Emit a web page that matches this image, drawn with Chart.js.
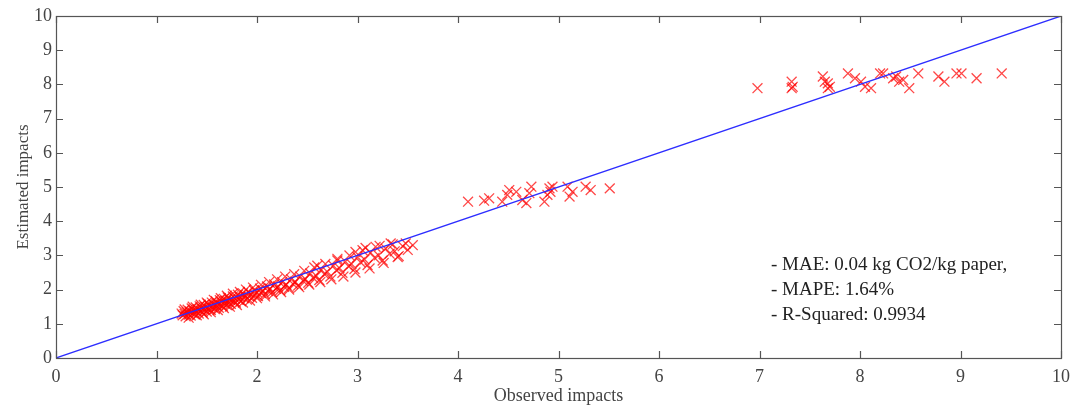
<!DOCTYPE html>
<html>
<head>
<meta charset="utf-8">
<script src="https://cdn.jsdelivr.net/npm/chart.js@4.4.0/dist/chart.umd.min.js"></script>
<style>
  html, body { margin: 0; padding: 0; background: #fff; }
  #wrap { width: 1070px; height: 407px; }
</style>
</head>
<body>
<div id="wrap"><canvas id="grafico" width="1070" height="407"></canvas></div>
<script>
// observed vs estimated impacts
const observed = [
  1.25, 1.26, 1.27, 1.28, 1.29, 1.30, 1.31, 1.32, 1.33, 1.34, 1.35, 1.36, 1.37, 1.38, 1.39, 1.40,
  1.41, 1.42, 1.43, 1.44, 1.45, 1.46, 1.47, 1.48, 1.49, 1.50, 1.51, 1.52, 1.53, 1.54, 1.55, 1.56,
  1.57, 1.58, 1.59, 1.60, 1.61, 1.62, 1.63, 1.64, 1.65, 1.66, 1.67, 1.68, 1.69, 1.70, 1.71, 1.72,
  1.73, 1.74, 1.76, 1.77, 1.78, 1.79, 1.81, 1.82, 1.83, 1.84, 1.86, 1.87, 1.88, 1.90, 1.91, 1.92,
  1.94, 1.95, 1.97, 1.98, 2.00, 2.01, 2.03, 2.04, 2.06, 2.08, 2.10, 2.11, 2.13, 2.15, 2.17, 2.19,
  2.21, 2.23, 2.25, 2.27, 2.29, 2.32, 2.34, 2.36, 2.38, 2.41, 2.43, 2.46, 2.48, 2.51, 2.53, 2.56,
  2.59, 2.62, 2.64, 2.67, 2.70, 2.73, 2.76, 2.79, 2.82, 2.85, 2.88, 2.91, 2.94, 2.97, 3.00, 3.03,
  3.07, 3.10, 3.13, 3.17, 3.21, 3.25, 3.28, 3.32, 3.37, 3.41, 3.45, 3.50, 3.55,
  2.60, 2.80, 2.98, 3.08, 3.22, 3.35,
  1.28, 1.32, 1.36, 1.40, 1.44, 1.47, 1.50, 1.54, 1.57, 1.61, 1.64, 1.67, 1.70, 1.73, 1.76, 1.80,
  1.83, 1.86, 1.89, 1.93, 1.96, 2.00, 2.04, 2.08, 2.12, 2.16, 2.20, 2.24, 2.28, 2.32, 2.37, 2.42,
  2.47, 2.52, 2.57, 2.63, 2.68, 2.74, 2.80, 2.86, 2.92, 2.98, 3.05, 3.12, 3.18, 3.26, 3.33, 3.40,
  3.48,
  4.10, 4.26, 4.31, 4.44, 4.49, 4.51, 4.58, 4.64, 4.68, 4.73, 4.71, 4.86, 4.89, 4.91, 4.92, 4.94,
  5.09, 5.11, 5.14, 5.27, 5.32, 5.51,
  6.98, 7.32, 7.32, 7.33, 7.63, 7.65, 7.68, 7.68, 7.70, 7.88, 7.95, 8.01, 8.05, 8.11, 8.20, 8.23,
  8.33, 8.36, 8.39, 8.43, 8.49, 8.58, 8.78, 8.84, 8.96, 9.01, 9.16, 9.41
];
const estimated = [
  1.30, 1.25, 1.37, 1.29, 1.22, 1.34, 1.41, 1.27, 1.36, 1.24, 1.45, 1.31, 1.39, 1.28, 1.48, 1.35,
  1.42, 1.30, 1.51, 1.38, 1.45, 1.33, 1.55, 1.41, 1.49, 1.36, 1.58, 1.44, 1.52, 1.40, 1.62, 1.48,
  1.56, 1.43, 1.66, 1.52, 1.59, 1.47, 1.69, 1.55, 1.63, 1.51, 1.73, 1.59, 1.67, 1.55, 1.77, 1.62,
  1.70, 1.58, 1.80, 1.66, 1.74, 1.62, 1.85, 1.71, 1.78, 1.66, 1.89, 1.75, 1.82, 1.71, 1.93, 1.80,
  1.87, 1.76, 1.98, 1.85, 1.92, 1.81, 2.03, 1.90, 1.97, 1.86, 2.09, 1.96, 2.03, 1.92, 2.15, 2.02,
  2.09, 1.98, 2.22, 2.08, 2.15, 2.05, 2.30, 2.16, 2.23, 2.12, 2.38, 2.25, 2.31, 2.20, 2.47, 2.34,
  2.40, 2.28, 2.58, 2.45, 2.52, 2.38, 2.70, 2.56, 2.63, 2.49, 2.82, 2.68, 2.75, 2.60, 2.95, 2.80,
  2.88, 2.72, 3.08, 2.93, 3.00, 2.85, 3.20, 3.05, 3.12, 2.98, 3.27, 3.16, 3.30,
  2.70, 2.90, 3.10, 3.22, 3.28, 3.32,
  1.42, 1.18, 1.50, 1.25, 1.56, 1.28, 1.62, 1.34, 1.70, 1.40, 1.75, 1.46, 1.82, 1.50, 1.88, 1.55,
  1.93, 1.62, 2.00, 1.68, 2.06, 1.75, 2.14, 1.80, 2.22, 1.86, 2.30, 1.93, 2.38, 2.00, 2.45, 2.07,
  2.55, 2.15, 2.65, 2.22, 2.75, 2.30, 2.85, 2.38, 3.00, 2.50, 3.15, 2.62, 3.25, 2.78, 3.35, 2.95,
  3.35,
  4.57, 4.60, 4.67, 4.57, 4.77, 4.91, 4.86, 4.62, 4.53, 5.01, 4.82, 4.57, 4.77, 4.96, 4.86, 5.01,
  5.01, 4.72, 4.86, 5.01, 4.91, 4.96,
  7.89, 8.08, 7.89, 7.93, 8.23, 8.08, 8.03, 7.89, 7.93, 8.32, 8.18, 8.08, 7.93, 7.89, 8.32, 8.32,
  8.18, 8.23, 8.08, 8.13, 7.89, 8.32, 8.23, 8.08, 8.32, 8.32, 8.18, 8.32
];
const refLine = [0, 10];
const tickValues = [0, 1, 2, 3, 4, 5, 6, 7, 8, 9, 10];
const metrics = [
  "- MAE: 0.04 kg CO2/kg paper,",
  "- MAPE: 1.64%",
  "- R-Squared: 0.9934"
];

const pontos = observed.map((x, i) => ({ x: x, y: estimated[i] }));
const linha = refLine.map((v) => ({ x: v, y: v }));

const fonte = "'Liberation Serif', 'Times New Roman', serif";

// ticks para dentro, caixa e texto de métricas (estilo MATLAB)
const caixaMatlab = {
  id: "caixaMatlab",
  afterDraw(chart) {
    const ctx = chart.ctx;
    const a = chart.chartArea;
    const sx = chart.scales.x;
    const sy = chart.scales.y;
    const len = 7;
    ctx.save();
    ctx.strokeStyle = "#555";
    ctx.lineWidth = 1.2;
    ctx.beginPath();
    tickValues.forEach((v) => {
      const px = Math.round(sx.getPixelForValue(v)) + 0.5;
      ctx.moveTo(px, a.bottom); ctx.lineTo(px, a.bottom - len);
      ctx.moveTo(px, a.top); ctx.lineTo(px, a.top + len);
      const py = Math.round(sy.getPixelForValue(v)) + 0.5;
      ctx.moveTo(a.left, py); ctx.lineTo(a.left + len, py);
      ctx.moveTo(a.right, py); ctx.lineTo(a.right - len, py);
    });
    ctx.stroke();
    ctx.strokeRect(Math.round(a.left) + 0.5, Math.round(a.top) + 0.5,
      Math.round(a.right - a.left), Math.round(a.bottom - a.top));

    ctx.fillStyle = "#222";
    ctx.font = "19px " + fonte;
    ctx.textBaseline = "middle";
    metrics.forEach((t, i) => {
      ctx.fillText(t, a.left + 715, a.top + 249 + i * 25);
    });
    ctx.restore();
  }
};

new Chart(document.getElementById("grafico"), {
  type: "scatter",
  data: {
    datasets: [
      {
        label: "Observed vs estimated",
        data: pontos,
        pointStyle: "crossRot",
        pointRadius: 7,
        pointBorderWidth: 1.3,
        borderColor: "rgba(255, 0, 0, 0.72)",
        backgroundColor: "rgba(255, 0, 0, 0.72)",
        order: 2
      },
      {
        type: "line",
        label: "y = x",
        data: linha,
        borderColor: "rgb(45, 45, 255)",
        borderWidth: 1.3,
        pointRadius: 0,
        fill: false,
        order: 1
      }
    ]
  },
  options: {
    responsive: false,
    animation: false,
    devicePixelRatio: 1,
    layout: { padding: { top: 16, right: 9, left: 0, bottom: 0 } },
    plugins: {
      legend: { display: false },
      tooltip: { enabled: false }
    },
    scales: {
      x: {
        type: "linear",
        min: 0,
        max: 10,
        afterFit: (s) => { s.height = 49; },
        afterBuildTicks: (s) => { s.ticks = tickValues.map((v) => ({ value: v })); },
        grid: { display: false },
        border: { display: false },
        ticks: { color: "#444", padding: 0, font: { family: fonte, size: 18 } },
        title: {
          display: true,
          text: "Observed impacts",
          color: "#444",
          padding: { top: 0, bottom: 0 },
          font: { family: fonte, size: 18 }
        }
      },
      y: {
        type: "linear",
        min: 0,
        max: 10,
        afterFit: (s) => { s.width = 56; },
        afterBuildTicks: (s) => { s.ticks = tickValues.map((v) => ({ value: v })); },
        grid: { display: false },
        border: { display: false },
        ticks: { color: "#444", padding: -4, font: { family: fonte, size: 18 } },
        title: {
          display: true,
          text: "Estimated impacts",
          color: "#444",
          padding: { top: 13, bottom: 0 },
          font: { family: fonte, size: 17 }
        }
      }
    }
  },
  plugins: [caixaMatlab]
});
</script>
</body>
</html>
